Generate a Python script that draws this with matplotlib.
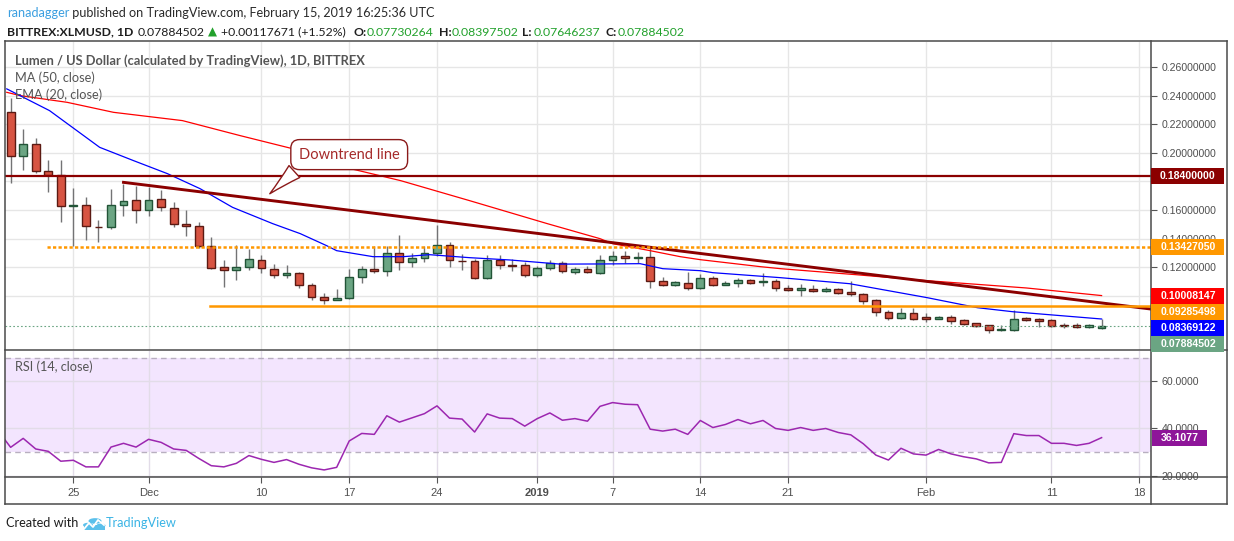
"""XLM/USD daily chart (TradingView style) with MA50, EMA20, trend lines and RSI pane."""
import matplotlib
matplotlib.use("Agg")
import matplotlib.pyplot as plt
from matplotlib.lines import Line2D
from matplotlib.patches import Rectangle, Circle, Polygon
import numpy as np
import pandas as pd

plt.rcParams["font.family"] = ["Liberation Sans", "DejaVu Sans"]

W, H = 1234, 541

# daily candles, BITTREX:XLMUSD 2018-11-20 .. 2019-02-15
dates = pd.date_range("2018-11-20", "2019-02-15", freq="D")
opens = [0.2282, 0.1980, 0.2059, 0.1869, 0.1843, 0.1629, 0.1634, 0.1483, 0.1478, 0.1634,
         0.1669, 0.1599, 0.1676, 0.1611, 0.1502, 0.1488, 0.1348, 0.1202, 0.1181, 0.1202,
         0.1248, 0.1186, 0.1142, 0.1160, 0.1076, 0.0993, 0.0972, 0.0984, 0.1132, 0.1188,
         0.1172, 0.1300, 0.1237, 0.1265, 0.1300, 0.1355, 0.1246, 0.1244, 0.1123, 0.1251,
         0.1216, 0.1216, 0.1146, 0.1195, 0.1230, 0.1167, 0.1188, 0.1160, 0.1251, 0.1278,
         0.1265, 0.1272, 0.1104, 0.1076, 0.1090, 0.1055, 0.1125, 0.1077, 0.1086, 0.1111,
         0.1093, 0.1104, 0.1055, 0.1039, 0.1048, 0.1035, 0.1044, 0.1023, 0.1009, 0.0967,
         0.0888, 0.0844, 0.0881, 0.0849, 0.0840, 0.0853, 0.0828, 0.0807, 0.0793, 0.0763,
         0.0763, 0.0844, 0.0837, 0.0828, 0.0795, 0.0795, 0.0784, 0.07730264]
highs = [0.2384, 0.2166, 0.2105, 0.1950, 0.1950, 0.1752, 0.1690, 0.1529, 0.1745, 0.1783,
         0.1769, 0.1762, 0.1738, 0.1655, 0.1599, 0.1518, 0.1413, 0.1253, 0.1358, 0.1330,
         0.1288, 0.1225, 0.1218, 0.1169, 0.1090, 0.1021, 0.1044, 0.1190, 0.1211, 0.1346,
         0.1351, 0.1427, 0.1300, 0.1346, 0.1497, 0.1376, 0.1295, 0.1258, 0.1285, 0.1285,
         0.1258, 0.1234, 0.1211, 0.1253, 0.1241, 0.1204, 0.1206, 0.1285, 0.1316, 0.1316,
         0.1304, 0.1341, 0.1134, 0.1102, 0.1165, 0.1155, 0.1137, 0.1102, 0.1123, 0.1118,
         0.1158, 0.1116, 0.1074, 0.1079, 0.1072, 0.1058, 0.1056, 0.1100, 0.1016, 0.0974,
         0.0900, 0.0916, 0.0916, 0.0877, 0.0858, 0.0863, 0.0835, 0.0812, 0.0798, 0.0798,
         0.0898, 0.0853, 0.0844, 0.0835, 0.0812, 0.0812, 0.0800, 0.08397502]
lows = [0.1787, 0.1882, 0.1855, 0.1722, 0.1513, 0.1351, 0.1388, 0.1374, 0.1464, 0.1555,
        0.1506, 0.1557, 0.1590, 0.1481, 0.1416, 0.1334, 0.1188, 0.1060, 0.1109, 0.1179,
        0.1158, 0.1121, 0.1123, 0.1056, 0.0970, 0.0939, 0.0970, 0.0974, 0.1088, 0.1158,
        0.1137, 0.1183, 0.1200, 0.1234, 0.1276, 0.1202, 0.1179, 0.1114, 0.1114, 0.1186,
        0.1172, 0.1130, 0.1130, 0.1179, 0.1158, 0.1151, 0.1160, 0.1153, 0.1216, 0.1230,
        0.1230, 0.1053, 0.1067, 0.1067, 0.1042, 0.1050, 0.1067, 0.1072, 0.1060, 0.1083,
        0.1067, 0.1032, 0.1030, 0.0997, 0.1023, 0.1025, 0.1009, 0.0997, 0.0944, 0.0858,
        0.0830, 0.0835, 0.0830, 0.0816, 0.0835, 0.0805, 0.0793, 0.0784, 0.0740, 0.0756,
        0.0756, 0.0823, 0.0784, 0.0784, 0.0774, 0.0774, 0.0774, 0.07646237]
closes = [0.1980, 0.2059, 0.1871, 0.1845, 0.1627, 0.1634, 0.1488, 0.1478, 0.1634, 0.1660,
          0.1599, 0.1669, 0.1620, 0.1504, 0.1488, 0.1348, 0.1195, 0.1181, 0.1202, 0.1257,
          0.1195, 0.1146, 0.1160, 0.1076, 0.0993, 0.0972, 0.0986, 0.1132, 0.1188, 0.1172,
          0.1300, 0.1237, 0.1265, 0.1300, 0.1355, 0.1251, 0.1241, 0.1123, 0.1251, 0.1216,
          0.1211, 0.1146, 0.1195, 0.1230, 0.1174, 0.1188, 0.1167, 0.1251, 0.1278, 0.1265,
          0.1272, 0.1102, 0.1076, 0.1093, 0.1055, 0.1125, 0.1077, 0.1090, 0.1111, 0.1090,
          0.1104, 0.1055, 0.1039, 0.1055, 0.1032, 0.1044, 0.1021, 0.1011, 0.0965, 0.0888,
          0.0844, 0.0881, 0.0840, 0.0837, 0.0853, 0.0826, 0.0802, 0.0791, 0.0763, 0.0767,
          0.0840, 0.0833, 0.0826, 0.0791, 0.0789, 0.0784, 0.0793, 0.07884502]

# RSI(14, close), first value is 2018-11-19
rsi = [39.0, 32.0, 35.8, 31.3, 30.3, 26.1, 26.5, 23.7, 23.7, 32.1, 33.7, 32.1, 35.4, 34.1,
       31.3, 30.7, 27.3, 24.2, 23.7, 25.2, 28.5, 26.9, 25.6, 26.8, 24.8, 23.3, 22.4, 23.5,
       34.7, 37.9, 37.5, 45.4, 42.7, 44.5, 46.3, 49.6, 44.4, 44.0, 38.5, 46.2, 44.4, 44.2,
       41.0, 44.2, 46.6, 43.5, 44.2, 43.1, 49.4, 51.0, 50.3, 50.1, 39.7, 38.9, 39.7, 37.5,
       43.4, 40.4, 41.7, 43.8, 42.0, 43.4, 40.0, 39.2, 40.4, 39.2, 40.0, 38.3, 37.3, 33.5,
       28.7, 26.6, 31.6, 29.2, 28.7, 31.1, 29.2, 28.0, 27.1, 25.4, 25.6, 37.8, 37.0, 37.0,
       33.7, 33.7, 32.8, 33.7, 36.1077]

# moving averages (x = days since 2018-11-20)
ma50_day = [-0.31, 0.75, 4.5, 8.2, 13.7, 18.3, 23.1, 27.1, 31.1, 36.6, 42.8, 47.0, 48.0,
            51.0, 53.4, 55.0, 59.8, 61.4, 67.4, 73.1, 81.0, 87.0]
ma50_val = [0.2423, 0.2400, 0.2353, 0.2283, 0.2225, 0.2120, 0.2015, 0.1889, 0.1805, 0.1665,
            0.1504, 0.1399, 0.1364, 0.1315, 0.1273, 0.1252, 0.1203, 0.1189, 0.1147, 0.1105,
            0.1054, 0.10008147]
ema20_day = [-0.31, 3.1, 7.1, 9.8, 12.5, 15.1, 17.7, 20.9, 23.1, 25.2, 26.0, 28.9, 31.3,
             33.4, 36.6, 39.8, 43.8, 47.0, 50.2, 52.0, 55.0, 56.0, 61.4, 66.9, 73.1, 77.1,
             79.9, 87.0]
ema20_val = [0.2447, 0.2295, 0.2038, 0.1945, 0.1854, 0.1749, 0.1618, 0.1504, 0.1434, 0.1350,
             0.1315, 0.1273, 0.1273, 0.1287, 0.1266, 0.1250, 0.1221, 0.1222, 0.1224, 0.1189,
             0.1175, 0.1161, 0.1126, 0.1084, 0.0986, 0.0916, 0.0888, 0.08369122]

# drawings
trend_day = [9.0, 90.9]
trend_val = [0.1793, 0.0907]
resistance = 0.184
range_top, range_top_from = 0.1342705, 2.9
support, support_from = 0.09285498, 15.9

price_ticks = [0.10, 0.12, 0.14, 0.16, 0.18, 0.20, 0.22, 0.24, 0.26]
# ticks fully covered by the value boxes on the price scale
hidden_ticks = [0.10, 0.18]
rsi_ticks = [20, 40, 60]
tick_dates = ["2018-11-25", "2018-12-01", "2018-12-10", "2018-12-17", "2018-12-24",
              "2019-01-01", "2019-01-07", "2019-01-14", "2019-01-21", "2019-02-01",
              "2019-02-11", "2019-02-18"]
tick_labels = ["25", "Dec", "10", "17", "24", "2019", "7", "14", "21", "Feb", "11", "18"]

UP, UP_EDGE = "#6BA583", "#225437"
DOWN, DOWN_EDGE = "#D75442", "#5B1A13"
WICK = "#737375"
GRID = "#E6E6E6"
AXIS_TXT = "#4F4F4F"
FRAME = "#4A4A4A"


def fx(x):
    return x / W


def fy(y):
    return 1 - y / H


fig = plt.figure(figsize=(W / 100, H / 100), dpi=100)
renderer = fig.canvas.get_renderer()


def fit(t, width):
    w = t.get_window_extent(renderer).width
    t.set_fontsize(t.get_fontsize() * width / w)
    return t


ax = fig.add_axes([fx(5), fy(350), (1151 - 5) / W, (350 - 42) / H])
ax_rsi = fig.add_axes([fx(5), fy(477), (1151 - 5) / W, (477 - 351) / H])

x = np.arange(len(dates))
o, h, l, c = map(np.array, (opens, highs, lows, closes))
up = c >= o
tick_x = [(pd.Timestamp(d) - dates[0]).days for d in tick_dates]
xlim = (-0.45, 90.94)

# ---- price pane
ax.vlines(x, l, h, color=WICK, lw=1, zorder=2)
ax.bar(x, np.maximum(np.abs(c - o), 0.0003), bottom=np.minimum(o, c), width=0.62,
       color=np.where(up, UP, DOWN), edgecolor=np.where(up, UP_EDGE, DOWN_EDGE),
       linewidth=1, zorder=3)
ax.plot(ma50_day, ma50_val, color="#FF0000", lw=0.9, zorder=4)
ax.plot(ema20_day, ema20_val, color="#0000FF", lw=0.9, zorder=4)
ax.plot(trend_day, trend_val, color="#8B0000", lw=2.1, zorder=5)
ax.axhline(resistance, color="#8B0000", lw=1.6, zorder=5)
ax.plot([range_top_from, xlim[1]], [range_top] * 2, color="#FF9800", lw=1.8,
        ls=(0, (1.3, 0.9)), zorder=5)
ax.plot([support_from, xlim[1]], [support] * 2, color="#FF9800", lw=1.8, zorder=5)
ax.axhline(closes[-1], color=UP, lw=0.8, ls=(0, (1.5, 2)), zorder=5)

ax.annotate("Downtrend line", xy=(20.5, 0.1700), xytext=(27.0, 0.1987),
            ha="center", va="center", color="#A52A2A", fontsize=10.5, family="Lato",
            bbox=dict(boxstyle="round,pad=0.55,rounding_size=0.6", fc="white",
                      ec="#8B1A1A", lw=1),
            arrowprops=dict(arrowstyle="wedge,tail_width=1.1,shrink_factor=0.45",
                            fc="white", ec="#8B1A1A", lw=1, relpos=(0.08, 0.1)),
            zorder=6)

ax.set_xlim(*xlim)
ax.set_ylim(0.0620, 0.2775)
ax.set_yticks(price_ticks)
ax.set_yticklabels(["" if v in hidden_ticks else f"{v:.8f}" for v in price_ticks])
ax.yaxis.tick_right()
ax.set_xticks(tick_x)
ax.tick_params(axis="x", length=0, labelbottom=False)
ax.tick_params(axis="y", direction="out", length=4, color="#555555", labelsize=7.6,
               labelcolor=AXIS_TXT, pad=3.5)
ax.grid(True, color=GRID, lw=1)
ax.set_axisbelow(True)
for s in ax.spines.values():
    s.set_visible(False)

# ---- RSI pane
ax_rsi.axhspan(30, 70, color="#F3E5FE", lw=0, zorder=0.2)
ax_rsi.axhline(70, color="#B8AFC0", lw=1, ls=(0, (4, 3)), zorder=1)
ax_rsi.axhline(30, color="#B8AFC0", lw=1, ls=(0, (4, 3)), zorder=1)
ax_rsi.plot(np.arange(-1, len(dates)), rsi, color="#9C27B0", lw=1.1, zorder=3)
ax_rsi.set_xlim(*xlim)
ax_rsi.set_ylim(19.4, 72.9)
ax_rsi.set_yticks(rsi_ticks)
ax_rsi.set_yticklabels([f"{v:.4f}" for v in rsi_ticks])
ax_rsi.yaxis.tick_right()
ax_rsi.set_xticks(tick_x)
ax_rsi.set_xticklabels(tick_labels)
ax_rsi.tick_params(axis="y", direction="out", length=4, color="#555555", labelsize=7.6,
                   labelcolor=AXIS_TXT, pad=3.5)
ax_rsi.tick_params(axis="x", direction="out", length=4, color="#555555", labelsize=8,
                   labelcolor=AXIS_TXT, pad=4)
for t in ax_rsi.get_xticklabels():
    if t.get_text() == "2019":
        t.set_fontweight("bold")
ax_rsi.grid(True, color="#E2DCE8", lw=1)
ax_rsi.set_axisbelow(True)
for s in ax_rsi.spines.values():
    s.set_visible(False)

# ---- frame
frame = [((5, 41), (1227, 41)), ((5, 504), (1227, 504)), ((5, 41), (5, 504)),
         ((1227, 41), (1227, 504)), ((1151, 41), (1151, 504)),
         ((5, 350), (1227, 350)), ((5, 477), (1227, 477))]
for (x0, y0), (x1, y1) in frame:
    fig.add_artist(Line2D([fx(x0), fx(x1)], [fy(y0), fy(y1)], color=FRAME, lw=1.1,
                          transform=fig.transFigure, zorder=4))

# ---- price scale value boxes (stacked so they do not overlap)
boxes = [(resistance, "#8B0000"), (range_top, "#FF9800"), (ma50_val[-1], "#FF0000"),
         (support, "#FF9800"), (ema20_val[-1], "#0000FF"), (closes[-1], UP)]
prev = -1e9
for val, col in sorted(boxes, key=lambda b: -b[0]):
    yc = max(H - ax.transData.transform((0, val))[1], prev + 16)
    prev = yc
    fig.add_artist(Rectangle((fx(1151), fy(yc + 8)), 73 / W, 16 / H, fc=col, ec="none",
                             transform=fig.transFigure, zorder=5))
    fig.text(fx(1188), fy(yc), f"{val:.8f}", ha="center", va="center", color="white",
             fontsize=7.6, fontweight="bold", zorder=6)

yc = H - ax_rsi.transData.transform((0, rsi[-1]))[1]
fig.add_artist(Rectangle((fx(1152), fy(yc + 8)), 55 / W, 16 / H, fc="#8E1599", ec="none",
                         transform=fig.transFigure, zorder=5))
fig.text(fx(1180), fy(yc), f"{rsi[-1]:.4f}", ha="center", va="center", color="white",
         fontsize=7.6, fontweight="bold", zorder=6)

# ---- pane legends
fit(fig.text(fx(15), fy(61), "Lumen / US Dollar (calculated by TradingView), 1D, BITTREX",
             family="Lato", color="#555555", fontweight="bold", va="center"), 349)
fit(fig.text(fx(15), fy(78), "MA (50, close)", family="Lato", color="#555555",
             va="center"), 80)
fit(fig.text(fx(15), fy(95), "EMA (20, close)", family="Lato", color="#555555",
             va="center"), 87)
fit(fig.text(fx(15), fy(367), "RSI (14, close)", family="Lato", color="#555555",
             va="center"), 78)

# ---- header
full = fig.text(fx(7), fy(13), "ranadagger published on TradingView.com, February 15, "
                "2019 16:25:36 UTC", family="Lato", va="center")
size = fit(full, 430).get_fontsize()
full.remove()
t = fig.text(fx(7), fy(13), "ranadagger", family="Lato", va="center", fontsize=size,
             color="#3B9FE0")
x_end = t.get_window_extent(renderer).x1
fig.text(x_end / W, fy(13), " published on TradingView.com, February 15, 2019 16:25:36 UTC",
         family="Lato", va="center", fontsize=size, color="#2A2A2A")

t = fit(fig.text(fx(7), fy(32), "BITTREX:XLMUSD, 1D", family="Lato", fontweight="bold",
                 va="center", color="#1E1E1E"), 127)
size2 = t.get_fontsize()
GREEN = "#22A12C"
header2 = [(138, "0.07884502", "#1E1E1E", "normal"),
           (221, "+0.00117671 (+1.52%)", "#1E1E1E", "normal"),
           (353, "O:", "#1E1E1E", "bold"), (367, "0.07730264", GREEN, "normal"),
           (439, "H:", "#1E1E1E", "bold"), (452, "0.08397502", GREEN, "normal"),
           (522, "L:", "#1E1E1E", "bold"), (534, "0.07646237", GREEN, "normal"),
           (605, "C:", "#1E1E1E", "bold"), (618, "0.07884502", GREEN, "normal")]
for xp, s, col, wt in header2:
    fig.text(fx(xp), fy(32), s, family="Lato", fontweight=wt, va="center", color=col,
             fontsize=size2)
fig.text(fx(212.5), fy(32), "\u25B2", family="DejaVu Sans", ha="center", va="center",
         color=GREEN, fontsize=size2 * 0.95)

# ---- footer
fit(fig.text(fx(6), fy(523), "Created with", family="Lato", va="center",
             color="#1E1E1E"), 73)
fit(fig.text(fx(106), fy(523), "TradingView", family="Lato", va="center",
             color="#3BB4E5"), 71)
LOGO = "#5BC0EB"
for cx, cy, r in [(88, 525, 5), (95, 521, 6.5), (101, 525.5, 4.5)]:
    fig.add_artist(Circle((fx(cx), fy(cy)), r / W, fc=LOGO, ec="none",
                          transform=fig.transFigure))
fig.add_artist(Polygon([(fx(84), fy(530)), (fx(105), fy(530)), (fx(105), fy(525)),
                        (fx(84), fy(525))], fc=LOGO, ec="none", transform=fig.transFigure))
fig.add_artist(Line2D([fx(84), fx(89), fx(93), fx(98), fx(104)],
                      [fy(529), fy(523), fy(527), fy(520), fy(525)], color="white", lw=1.3,
                      transform=fig.transFigure))

fig.savefig("out.png", dpi=100)
